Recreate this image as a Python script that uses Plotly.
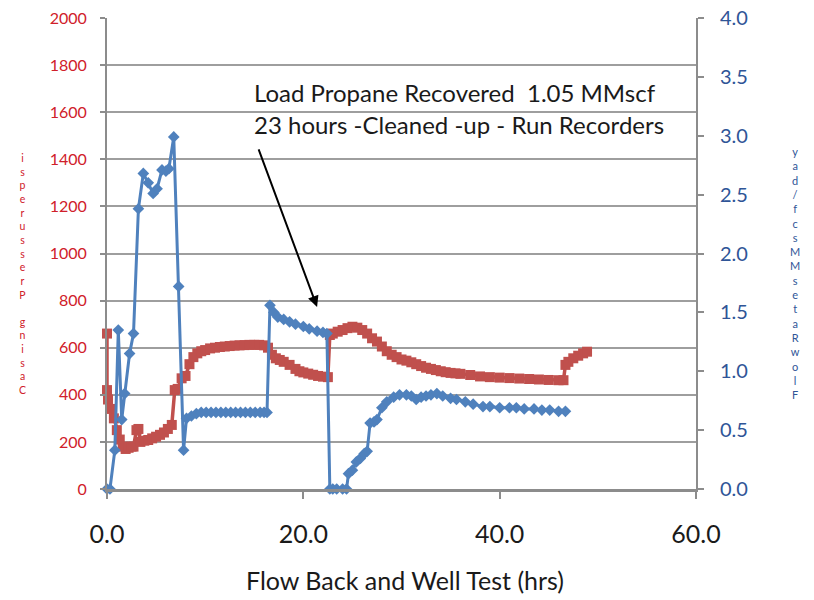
import plotly.graph_objects as go

# Casing pressure (psi) vs. elapsed time (hrs)
pressure_hrs = [0.0, 0.0, 0.1, 0.4, 0.7, 1.0, 1.3, 1.6, 1.9, 2.2, 2.5, 2.7, 3.0, 3.2, 3.4, 3.8,
                4.2, 4.6, 5.0, 5.4, 5.8, 6.2, 6.6, 6.9, 7.2, 7.6, 8.0, 8.4, 8.8, 9.2, 9.6, 10.0,
                10.5, 11.0, 11.5, 12.0, 12.5, 13.0, 13.5, 14.0, 14.5, 15.0, 15.5, 16.0, 16.4,
                16.8, 17.2, 17.6, 18.0, 18.6, 19.2, 19.6, 20.0, 20.5, 21.0, 21.5, 22.0, 22.5,
                22.7, 23.0, 23.5, 24.0, 24.5, 25.0, 25.5, 26.0, 26.5, 27.0, 27.5, 28.0, 28.5,
                29.0, 29.5, 30.0, 30.5, 31.0, 31.5, 32.0, 32.5, 33.0, 33.5, 34.0, 34.5, 35.0,
                35.5, 36.0, 37.0, 38.0, 39.0, 40.0, 41.0, 42.0, 43.0, 44.0, 45.0, 46.0, 46.5,
                46.7, 47.0, 47.5, 48.0, 48.5, 48.9]
pressure_psi = [660, 420, 380, 340, 300, 250, 210, 180, 170, 175, 180, 180, 250, 255, 200, 205,
                208, 215, 222, 230, 240, 255, 272, 420, 425, 470, 480, 530, 560, 576, 585, 590,
                597, 600, 603, 605, 607, 609, 610, 611, 612, 612, 612, 610, 600,
                570, 555, 548, 540, 527, 510, 500, 495, 490, 485, 480, 477, 475,
                654, 660, 668, 675, 683, 689, 685, 675, 660, 640, 626, 605, 585,
                570, 560, 550, 545, 538, 530, 522, 515, 510, 505, 500, 496, 493,
                491, 489, 484, 478, 475, 473, 471, 469, 467, 465, 463, 462, 462,
                527, 540, 555, 566, 576, 583]

# Gas flow rate (MMscf/day) vs. elapsed time (hrs)
rate_hrs = [0.0, 0.3, 0.8, 1.15, 1.5, 1.8, 2.3, 2.7, 3.2, 3.7, 4.2, 4.7, 5.1, 5.6, 6.0, 6.3,
            6.8, 7.3, 7.8, 8.1, 8.6, 9.1, 9.6, 10.1, 10.6, 11.1, 11.6, 12.1, 12.6, 13.1, 13.6,
            14.1, 14.6, 15.1, 15.6, 16.0, 16.3, 16.6, 17.0, 17.4, 18.0, 18.6, 19.2, 20.0,
            20.6, 21.4, 22.0, 22.4, 22.7, 23.0, 23.4, 24.0, 24.4, 24.6, 25.0, 25.4, 25.8,
            26.2, 26.5, 26.8, 27.2, 27.5, 28.0, 28.5, 29.2, 29.8, 30.5, 31.0, 31.5, 32.0,
            32.5, 33.0, 33.6, 34.2, 35.0, 35.6, 36.5, 37.3, 38.3, 39.0, 40.0, 41.0, 41.7,
            42.5, 43.5, 44.3, 45.1, 46.0, 46.7]
rate_mmscfd = [0.0, 0.0, 0.33, 1.35, 0.59, 0.81, 1.15, 1.32, 2.38, 2.68, 2.60, 2.51, 2.55, 2.71, 2.70, 2.72,
               2.99, 1.72, 0.33, 0.60, 0.62, 0.64, 0.65, 0.65, 0.65, 0.65, 0.65, 0.65, 0.65, 0.65, 0.65,
               0.65, 0.65, 0.65, 0.65, 0.65, 0.65, 1.56, 1.50, 1.46, 1.44, 1.42, 1.40, 1.38,
               1.36, 1.34, 1.33, 1.32, 0.0, 0.0, 0.0, 0.0, 0.0, 0.13, 0.16, 0.23, 0.26,
               0.30, 0.32, 0.56, 0.57, 0.59, 0.69, 0.74, 0.78, 0.80, 0.80, 0.79, 0.76, 0.78,
               0.79, 0.80, 0.81, 0.79, 0.77, 0.76, 0.74, 0.72, 0.70, 0.70, 0.69, 0.69, 0.69,
               0.68, 0.68, 0.67, 0.67, 0.66, 0.66]

left_ticks = list(range(0, 2001, 200))
right_ticks = [0.0, 0.5, 1.0, 1.5, 2.0, 2.5, 3.0, 3.5, 4.0]
x_ticks = [0, 20, 40, 60]

x_title = "Flow Back and Well Test (hrs)"
note_line1 = "Load Propane Recovered  1.05 MMscf"
note_line2 = "23 hours -Cleaned -up - Run Recorders"
left_title = "Casing Pressure psi"
right_title = "Flow Rates MMscf/day"

RED = "#C0504D"
BLUE = "#4F81BD"
RED_TXT = "#D0202A"
BLUE_TXT = "#2F5597"
GRID = "#9E9E9E"
AXIS = "#8C8C8C"
INK = "#1a1a1a"
FONT = "Lato, 'Open Sans', sans-serif"

# plot-area geometry in pixels (used to place outside text)
L, R, T, B = 107, 118, 18, 111
W, H = 814, 600
PW, PH = W - L - R, H - T - B


def px_to_paper(px, py):
    return (px - L) / PW, (H - B - py) / PH


def stacked(title, gap_after=()):
    """Title letters stacked top-to-bottom, last letter first, one per line."""
    words = title.split(" ")[::-1]
    lines = []
    for i, word in enumerate(words):
        lines.extend(list(word[::-1]))
        if i in gap_after:
            lines.append("\u00a0")
    return "<br>".join(lines)


fig = go.Figure()

fig.add_trace(go.Scatter(
    x=pressure_hrs, y=pressure_psi, mode="lines+markers",
    line=dict(color=RED, width=3.5),
    marker=dict(symbol="square", size=10, color=RED),
    cliponaxis=False, yaxis="y", showlegend=False))

fig.add_trace(go.Scatter(
    x=rate_hrs, y=rate_mmscfd, mode="lines+markers",
    line=dict(color=BLUE, width=3),
    marker=dict(symbol="diamond", size=9, color=BLUE),
    cliponaxis=False, yaxis="y2", showlegend=False))

annotations = []

# note text box
for txt, py in [(note_line1, 93), (note_line2, 125)]:
    ax_, ay_ = px_to_paper(252, py)
    annotations.append(dict(x=ax_, y=ay_, xref="paper", yref="paper", text=txt,
                            showarrow=False, xanchor="left", yanchor="middle",
                            font=dict(family=FONT, size=24, color=INK)))

# arrow pointing to the cleanup time
annotations.append(dict(x=21.4, y=773, xref="x", yref="y", text="", showarrow=True,
                        ax=-59, ay=-159, arrowhead=2, arrowsize=1.1, arrowwidth=2,
                        arrowcolor="#000000"))

# stacked-letter axis titles
xp, yp = px_to_paper(22, 274)
annotations.append(dict(x=xp, y=yp, xref="paper", yref="paper",
                        text=stacked(left_title, gap_after=(1,)),
                        showarrow=False, xanchor="center", yanchor="middle",
                        font=dict(family=FONT, size=10.5, color=RED_TXT)))
xp, yp = px_to_paper(795, 273)
annotations.append(dict(x=xp, y=yp, xref="paper", yref="paper",
                        text=stacked(right_title),
                        showarrow=False, xanchor="center", yanchor="middle",
                        font=dict(family=FONT, size=11, color=BLUE_TXT)))

# x-axis title
xp, yp = px_to_paper(405, 580)
annotations.append(dict(x=xp, y=yp, xref="paper", yref="paper", text=x_title,
                        showarrow=False, xanchor="center", yanchor="middle",
                        font=dict(family=FONT, size=25, color=INK)))

fig.update_layout(
    width=W, height=H,
    margin=dict(l=L, r=R, t=T, b=B, autoexpand=False),
    paper_bgcolor="white", plot_bgcolor="white",
    font=dict(family=FONT, size=16, color=INK),
    xaxis=dict(range=[0, 60], tickvals=x_ticks, tickformat=".1f",
               showgrid=False, zeroline=False, showline=True, linecolor=AXIS, linewidth=2.5,
               ticks="outside", ticklen=7, tickwidth=1.5, tickcolor=AXIS,
               ticklabelstandoff=14,
               tickfont=dict(family=FONT, size=25, color=INK),
               automargin=False),
    yaxis=dict(range=[0, 2000], tickvals=left_ticks, showgrid=True, gridcolor=GRID, gridwidth=1.5,
               zeroline=False, showline=True, linecolor=AXIS, linewidth=2,
               ticks="outside", ticklen=5, tickwidth=1.5, tickcolor=AXIS,
               ticklabelstandoff=10,
               tickfont=dict(family=FONT, size=16, color=RED_TXT), automargin=False),
    yaxis2=dict(range=[0, 4], tickvals=right_ticks, tickformat=".1f", overlaying="y", side="right",
                showgrid=False, zeroline=False, showline=True, linecolor=AXIS, linewidth=2,
                ticks="outside", ticklen=6, tickwidth=1.5, tickcolor=AXIS,
                ticklabelstandoff=12,
                tickfont=dict(family=FONT, size=20, color=BLUE_TXT), automargin=False),
    annotations=annotations,
)

fig.write_html("out.html")
